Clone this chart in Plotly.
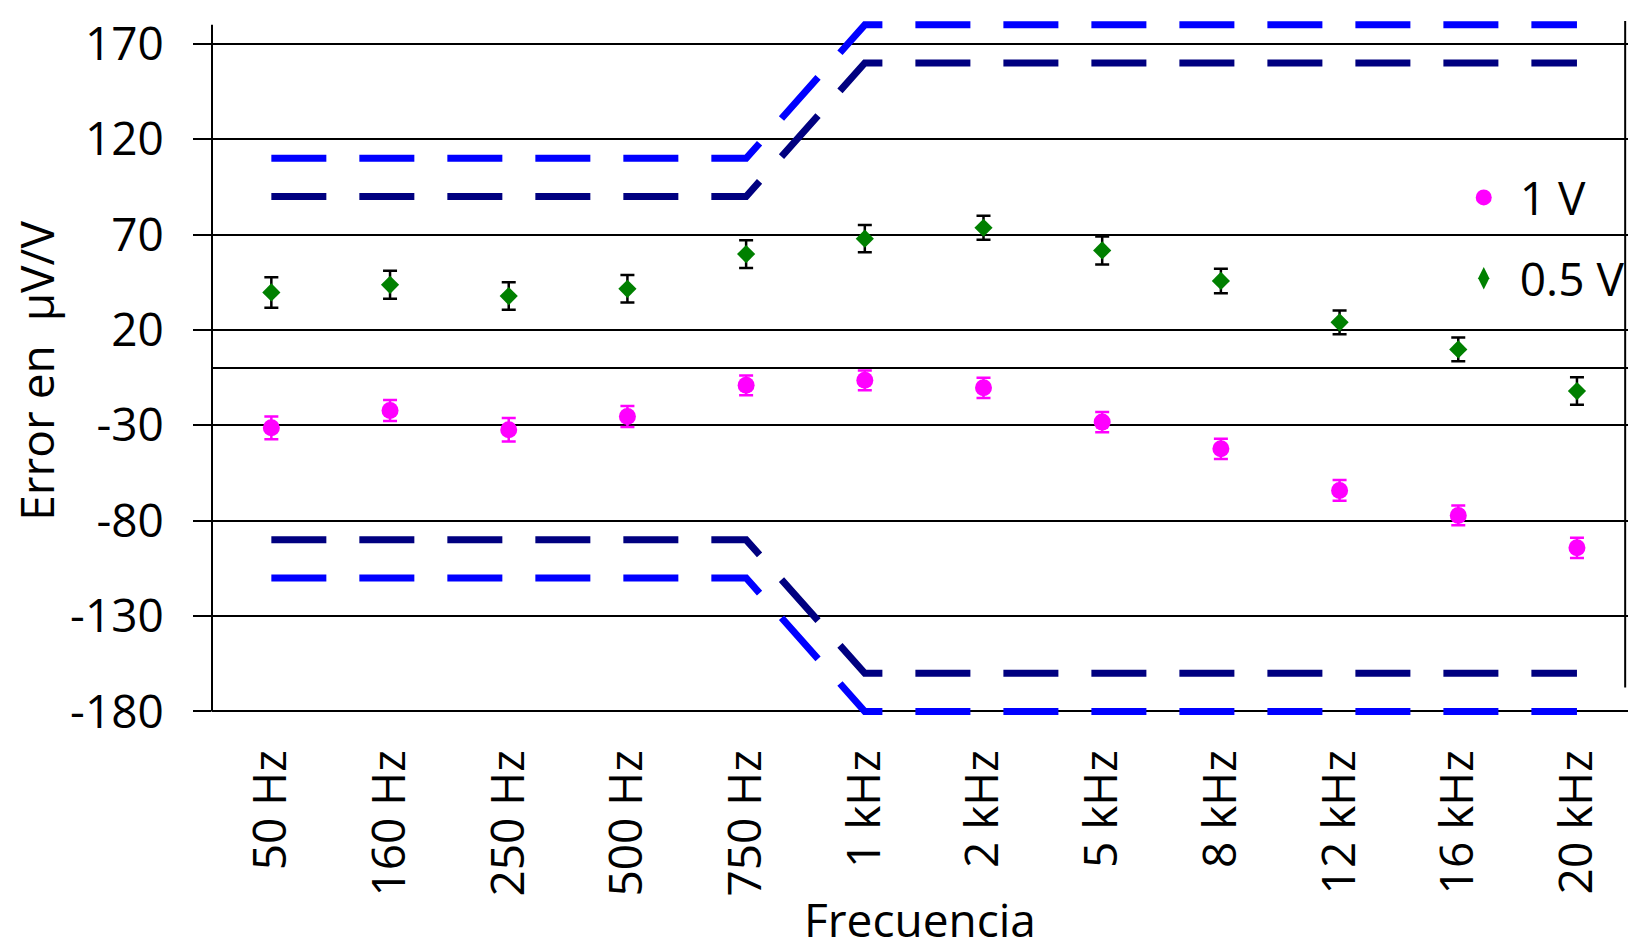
import plotly.graph_objects as go

categories = ["50 Hz", "160 Hz", "250 Hz", "500 Hz", "750 Hz", "1 kHz",
              "2 kHz", "5 kHz", "8 kHz", "12 kHz", "16 kHz", "20 kHz"]

err_1v = [-31.3, -22.2, -32.3, -25.3, -9.0, -6.4, -10.3, -28.3, -42.3, -64.1, -77.2, -94.2]
unc_1v = [6.0, 5.5, 6.2, 5.5, 5.2, 5.2, 5.3, 5.3, 5.3, 5.4, 5.2, 5.3]

err_05v = [39.7, 43.7, 37.8, 41.6, 59.8, 67.9, 73.6, 61.7, 45.7, 24.0, 9.8, -12.0]
unc_05v = [8.0, 7.3, 7.2, 7.2, 7.3, 7.2, 6.3, 7.3, 6.4, 6.2, 6.2, 7.2]

lim_a_up = [110, 110, 110, 110, 110, 180, 180, 180, 180, 180, 180, 180]
lim_a_low = [-110, -110, -110, -110, -110, -180, -180, -180, -180, -180, -180, -180]
lim_b_up = [90, 90, 90, 90, 90, 160, 160, 160, 160, 160, 160, 160]
lim_b_low = [-90, -90, -90, -90, -90, -160, -160, -160, -160, -160, -160, -160]

y_ticks = [-180, -130, -80, -30, 20, 70, 120, 170]

FONT = "Open Sans"
FS = 46
BLUE = "#0000FF"
NAVY = "#000080"
MAG = "#FF00FF"
GREEN = "#008000"

fig = go.Figure()

dash = "55px,33px"
for ys, col in [(lim_a_up, BLUE), (lim_a_low, BLUE), (lim_b_up, NAVY), (lim_b_low, NAVY)]:
    fig.add_trace(go.Scatter(x=categories, y=ys, mode="lines",
                             line=dict(color=col, width=7, dash=dash),
                             showlegend=False, hoverinfo="skip"))

fig.add_trace(go.Scatter(x=categories, y=err_1v, mode="markers", name="1 V",
                         marker=dict(symbol="circle", size=17, color=MAG),
                         error_y=dict(type="data", array=unc_1v, color=MAG,
                                      thickness=2.5, width=7),
                         showlegend=False))
fig.add_trace(go.Scatter(x=categories, y=err_05v, mode="markers", name="0.5 V",
                         marker=dict(symbol="diamond", size=14, color=GREEN),
                         error_y=dict(type="data", array=unc_05v, color="black",
                                      thickness=2.5, width=7),
                         showlegend=False))

# legend entries
fig.add_trace(go.Scatter(x=[None], y=[None], mode="markers", name="1 V",
                         marker=dict(symbol="circle", size=16, color=MAG),
                         legendgroup="a"))
fig.add_trace(go.Scatter(x=[None], y=[None], mode="markers", name="0.5 V",
                         marker=dict(symbol="diamond-tall", size=16, color=GREEN),
                         legendgroup="b"))

fig.update_layout(
    width=1628, height=950,
    margin=dict(l=212, r=0, t=21, b=229, autoexpand=False),
    paper_bgcolor="white", plot_bgcolor="white",
    font=dict(family=FONT, size=FS, color="black"),
    showlegend=True,
    legend=dict(x=0.8727, y=0.80, xanchor="left", yanchor="top",
                bgcolor="rgba(0,0,0,0)", font=dict(size=FS, family=FONT),
                tracegroupgap=18, itemwidth=62),
    xaxis=dict(type="category", range=[-0.5, 11.43], showgrid=False,
               zeroline=False, showline=False, tickangle=-90, automargin=False,
               tickfont=dict(size=FS, family=FONT), ticks="",
               ticklabelstandoff=19,
               title=dict(text="Frecuencia", font=dict(size=FS, family=FONT), standoff=9)),
    yaxis=dict(range=[-185, 182], tickmode="array", tickvals=y_ticks,
               ticktext=[str(v) for v in y_ticks], automargin=False,
               showgrid=True, gridcolor="black", gridwidth=2,
               zeroline=True, zerolinecolor="black", zerolinewidth=2,
               showline=False, ticks="outside", ticklen=18, tickwidth=2,
               tickcolor="black", tickfont=dict(size=FS, family=FONT),
               ticklabelstandoff=20,
               title=dict(text="Error en\u00a0 µV/V", font=dict(size=FS, family=FONT),
                          standoff=0)),
    shapes=[
        dict(type="line", xref="paper", yref="y", x0=0, x1=0, y0=-180, y1=180,
             line=dict(color="black", width=2)),
        dict(type="line", xref="paper", yref="y", x0=0.998, x1=0.998, y0=-167.5, y1=182,
             line=dict(color="black", width=2)),
    ],
)

fig.write_html("out.html", config={"displayModeBar": False},
               post_script="document.body.style.margin='0';document.body.style.overflow='hidden';")
